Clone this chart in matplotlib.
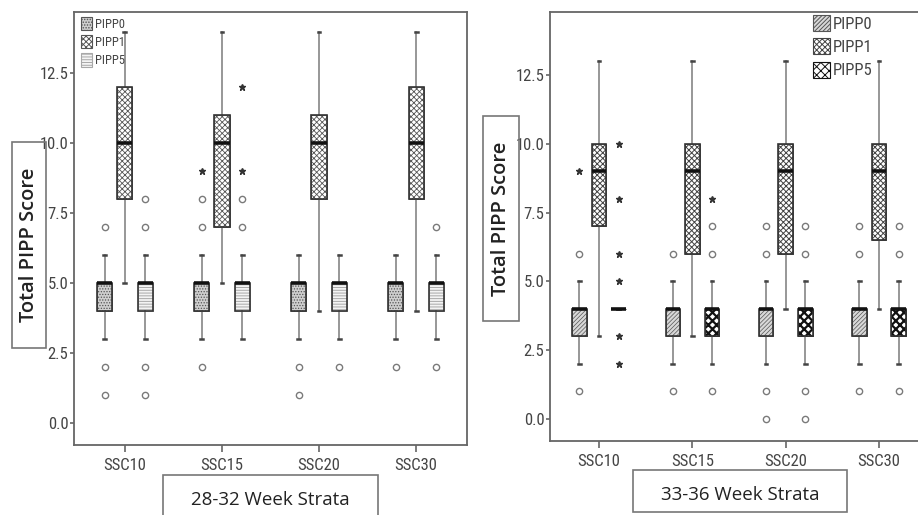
import matplotlib
matplotlib.use('Agg')
import matplotlib.pyplot as plt
from matplotlib.patches import Patch, Rectangle, PathPatch
from matplotlib import font_manager
import numpy as np

categories = ['SSC10', 'SSC15', 'SSC20', 'SSC30']
series = ['PIPP0', 'PIPP1', 'PIPP5']
yticks = [0.0, 2.5, 5.0, 7.5, 10.0, 12.5]

# ---- 28-32 week strata ----
w28_pipp0_q1 = [4, 4, 4, 4]
w28_pipp0_med = [5, 5, 5, 5]
w28_pipp0_q3 = [5, 5, 5, 5]
w28_pipp0_lo = [3, 3, 3, 3]
w28_pipp0_hi = [6, 6, 6, 6]
w28_pipp0_circles = [[1, 2, 7], [2, 7, 8], [1, 2], [2]]
w28_pipp0_stars = [[], [9], [], []]

w28_pipp1_q1 = [8, 7, 8, 8]
w28_pipp1_med = [10, 10, 10, 10]
w28_pipp1_q3 = [12, 11, 11, 12]
w28_pipp1_lo = [5, 5, 4, 4]
w28_pipp1_hi = [14, 14, 14, 14]
w28_pipp1_circles = [[], [], [], []]
w28_pipp1_stars = [[], [], [], []]

w28_pipp5_q1 = [4, 4, 4, 4]
w28_pipp5_med = [5, 5, 5, 5]
w28_pipp5_q3 = [5, 5, 5, 5]
w28_pipp5_lo = [3, 3, 3, 3]
w28_pipp5_hi = [6, 6, 6, 6]
w28_pipp5_circles = [[1, 2, 7, 8], [7, 8], [2], [2, 7]]
w28_pipp5_stars = [[], [9, 12], [], []]

# ---- 33-36 week strata ----
w33_pipp0_q1 = [3, 3, 3, 3]
w33_pipp0_med = [4, 4, 4, 4]
w33_pipp0_q3 = [4, 4, 4, 4]
w33_pipp0_lo = [2, 2, 2, 2]
w33_pipp0_hi = [5, 5, 5, 5]
w33_pipp0_circles = [[1, 6], [1, 6], [0, 1, 6, 7], [1, 6, 7]]
w33_pipp0_stars = [[9], [], [], []]

w33_pipp1_q1 = [7, 6, 6, 6.5]
w33_pipp1_med = [9, 9, 9, 9]
w33_pipp1_q3 = [10, 10, 10, 10]
w33_pipp1_lo = [3, 3, 4, 4]
w33_pipp1_hi = [13, 13, 13, 13]
w33_pipp1_circles = [[], [], [], []]
w33_pipp1_stars = [[], [], [], []]

w33_pipp5_q1 = [4, 3, 3, 3]
w33_pipp5_med = [4, 4, 4, 4]
w33_pipp5_q3 = [4, 4, 4, 4]
w33_pipp5_lo = [4, 2, 2, 2]
w33_pipp5_hi = [4, 5, 5, 5]
w33_pipp5_circles = [[], [1, 6, 7], [0, 1, 6, 7], [1, 6, 7]]
w33_pipp5_stars = [[2, 3, 5, 6, 8, 10], [8], [], []]

w28 = {
    'PIPP0': (w28_pipp0_q1, w28_pipp0_med, w28_pipp0_q3, w28_pipp0_lo, w28_pipp0_hi, w28_pipp0_circles, w28_pipp0_stars),
    'PIPP1': (w28_pipp1_q1, w28_pipp1_med, w28_pipp1_q3, w28_pipp1_lo, w28_pipp1_hi, w28_pipp1_circles, w28_pipp1_stars),
    'PIPP5': (w28_pipp5_q1, w28_pipp5_med, w28_pipp5_q3, w28_pipp5_lo, w28_pipp5_hi, w28_pipp5_circles, w28_pipp5_stars),
}
w33 = {
    'PIPP0': (w33_pipp0_q1, w33_pipp0_med, w33_pipp0_q3, w33_pipp0_lo, w33_pipp0_hi, w33_pipp0_circles, w33_pipp0_stars),
    'PIPP1': (w33_pipp1_q1, w33_pipp1_med, w33_pipp1_q3, w33_pipp1_lo, w33_pipp1_hi, w33_pipp1_circles, w33_pipp1_stars),
    'PIPP5': (w33_pipp5_q1, w33_pipp5_med, w33_pipp5_q3, w33_pipp5_lo, w33_pipp5_hi, w33_pipp5_circles, w33_pipp5_stars),
}

plt.rcParams['hatch.linewidth'] = 0.7

# pick a narrow font if one is installed
names = {f.name for f in font_manager.fontManager.ttflist}
narrow_fp = None
for cand in ['Liberation Sans Narrow', 'Arial Narrow', 'Roboto Condensed', 'Open Sans Condensed']:
    if cand in names:
        narrow_fp = dict(family=[cand, 'DejaVu Sans'])
        break
if narrow_fp is None:
    condensed = [f for f in font_manager.fontManager.ttflist
                 if f.name == 'DejaVu Sans' and 'ondensed' in str(f.stretch) + f.fname]
    if condensed:
        narrow_fp = dict(fname=condensed[0].fname)
    else:
        narrow_fp = dict(family=['Liberation Sans', 'DejaVu Sans'])

LABEL = ['Open Sans', 'DejaVu Sans']

# style per series: facecolor, hatch, hatch colour, hatch linewidth
styles_left = {
    'PIPP0': ('#cfcfcf', '.' * 6, '#555555', 0.6),
    'PIPP1': ('#ffffff', 'x' * 6, '#555555', 0.6),
    'PIPP5': ('#f4f4f4', '-' * 6, '#a8a8a8', 0.7),
}
styles_right = {
    'PIPP0': ('#d8d8d8', '/' * 8, '#555555', 0.5),
    'PIPP1': ('#ffffff', 'x' * 6, '#444444', 0.7),
    'PIPP5': ('#ffffff', 'x' * 4, '#111111', 1.6),
}
offsets = [-0.21, 0.0, 0.21]


def make_fp(size):
    if 'fname' in narrow_fp:
        return font_manager.FontProperties(fname=narrow_fp['fname'], size=size)
    return font_manager.FontProperties(family=narrow_fp['family'], size=size)


fig = plt.figure(figsize=(9.18, 5.15), dpi=100)
axL = fig.add_axes([74 / 918, 1 - 445 / 515, 393 / 918, 433 / 515])
axR = fig.add_axes([550 / 918, 1 - 441 / 515, 378 / 918, 429 / 515])


def draw_panel(ax, data, styles, ylim):
    xs = np.arange(len(categories))
    for k, s in enumerate(series):
        q1, med, q3, lo, hi, circ, stars = data[s]
        fc, hatch, hc, hlw = styles[s]
        stats = [dict(q1=q1[i], med=med[i], q3=q3[i], whislo=lo[i], whishi=hi[i],
                      fliers=circ[i]) for i in range(len(categories))]
        pos = xs + offsets[k]
        b = ax.bxp(stats, positions=pos, widths=0.155, patch_artist=True,
                   showfliers=True, capwidths=0.03,
                   boxprops=dict(facecolor=fc, edgecolor=hc, linewidth=0.6),
                   medianprops=dict(color='#111111', linewidth=2.6, zorder=6,
                                    solid_capstyle='butt'),
                   whiskerprops=dict(color='#7a7a7a', linewidth=1.1),
                   capprops=dict(color='#444444', linewidth=1.8),
                   flierprops=dict(marker='o', markersize=4.5, markerfacecolor='none',
                                   markeredgecolor='#7a7a7a', markeredgewidth=1.0))
        for box in b['boxes']:
            box.set_hatch(hatch)
            try:
                box.set_hatch_linewidth(hlw)
            except AttributeError:
                pass
            ax.add_patch(PathPatch(box.get_path(), fill=False, edgecolor='#333333',
                                   linewidth=1.2, zorder=5))
        for i in range(len(categories)):
            if stars[i]:
                ax.plot([pos[i]] * len(stars[i]), stars[i], linestyle='none',
                        marker='*', markersize=5, color='#333333', zorder=4)
    ax.set_xlim(-0.525, 3.525)
    ax.set_ylim(*ylim)
    ax.set_xticks(xs)
    ax.set_xticklabels(categories)
    ax.set_yticks(yticks)
    ax.set_yticklabels([f'{v:.1f}' for v in yticks])
    for sp in ax.spines.values():
        sp.set_color('#666666')
        sp.set_linewidth(1.3)
    ax.tick_params(axis='y', length=3, width=1.2, color='#666666', pad=1,
                   labelcolor='#444444')
    ax.tick_params(axis='x', length=5, width=1.2, color='#666666', pad=4,
                   labelcolor='#444444')
    for lab in ax.get_xticklabels() + ax.get_yticklabels():
        lab.set_fontproperties(make_fp(12))


draw_panel(axL, w28, styles_left, (-0.79, 14.7))
draw_panel(axR, w33, styles_right, (-0.81, 14.8))
axR.spines['right'].set_visible(False)


def legend_handles(styles):
    hs = []
    for s in series:
        fc, hatch, hc, hlw = styles[s]
        hs.append(Patch(facecolor=fc, edgecolor=hc, hatch=hatch, linewidth=0.8, label=s))
    return hs


legL = axL.legend(handles=legend_handles(styles_left), loc='upper left',
                  bbox_to_anchor=(81 / 918, 1 - 17 / 515), bbox_transform=fig.transFigure,
                  frameon=False, borderpad=0, borderaxespad=0, handlelength=0.9,
                  handleheight=1.25, labelspacing=0.35, handletextpad=0.2,
                  prop=make_fp(9))
for t in legL.get_texts():
    t.set_color('#444444')
legR = axR.legend(handles=legend_handles(styles_right), loc='upper left',
                  bbox_to_anchor=(813 / 918, 1 - 15 / 515), bbox_transform=fig.transFigure,
                  frameon=False, borderpad=0, borderaxespad=0, handlelength=1.0,
                  handleheight=1.1, labelspacing=0.4, handletextpad=0.2,
                  prop=make_fp(12))
for t in legR.get_texts():
    t.set_color('#444444')

# label boxes
boxes = [
    (12, 142, 46, 348),
    (483, 116, 519, 321),
    (163, 475, 378, 522),
    (633, 470, 847, 512),
]
for x0, y0, x1, y1 in boxes:
    fig.add_artist(Rectangle((x0 / 918, 1 - y1 / 515), (x1 - x0) / 918, (y1 - y0) / 515,
                             transform=fig.transFigure, fill=False,
                             edgecolor='#777777', linewidth=1.2))

fig.text(29 / 918, 1 - 245 / 515, 'Total PIPP Score', rotation=90, ha='center', va='center',
         fontsize=14.5, fontweight='semibold', family=LABEL, color='#222222')
fig.text(501 / 918, 1 - 218.5 / 515, 'Total PIPP Score', rotation=90, ha='center', va='center',
         fontsize=14.5, fontweight='semibold', family=LABEL, color='#222222')
fig.text(270 / 918, 1 - 500 / 515, '28-32 Week Strata', ha='center', va='center',
         fontsize=13.5, family=LABEL, color='#222222')
fig.text(740 / 918, 1 - 495 / 515, '33-36 Week Strata', ha='center', va='center',
         fontsize=13.5, family=LABEL, color='#222222')

fig.savefig('out.png', dpi=100)
